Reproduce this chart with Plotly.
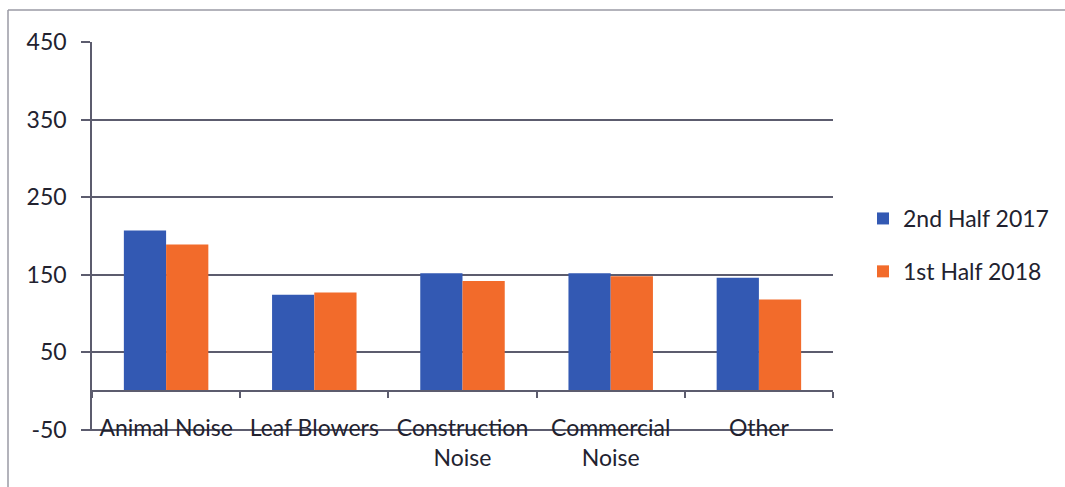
import plotly.graph_objects as go

categories = ["Animal Noise", "Leaf Blowers", "Construction<br>Noise", "Commercial<br>Noise", "Other"]
half2_2017 = [207, 124, 152, 152, 146]
half1_2018 = [189, 127, 142, 148, 118]
series_names = ["2nd Half 2017", "1st Half 2018"]
y_ticks = [-50, 50, 150, 250, 350, 450]
y_tick_text = ["-50", "50", "150", "250", "350", "450"]

BLUE = "#3359B3"
ORANGE = "#F26B2B"
GRID = "#5c5c6e"
TEXT = "#22222f"
FONT = "Lato"

W, H = 1065, 487
L, R, T, B = 92, 232, 42, 56
pw, ph = W - L - R, H - T - B

fig = go.Figure()
fig.add_trace(go.Bar(x=categories, y=half2_2017, name=series_names[0],
                     marker=dict(color=BLUE, line=dict(width=0)), legendgroup="a"))
fig.add_trace(go.Bar(x=categories, y=half1_2018, name=series_names[1],
                     marker=dict(color=ORANGE, line=dict(width=0)), legendgroup="b"))

# pad the lower end a touch so the bottom gridline is still drawn
ymin, ymax = y_ticks[0] - 1.5, y_ticks[-1]
zero_pos = (0 - ymin) / (ymax - ymin)

fig.update_layout(
    width=W, height=H,
    margin=dict(l=L, r=R, t=T, b=B, autoexpand=False),
    paper_bgcolor="white", plot_bgcolor="white",
    barmode="group", bargap=0.43, bargroupgap=0,
    font=dict(family=FONT, size=23, color=TEXT),
    legend=dict(x=(863 - L) / pw, y=1 - (245 - T) / ph, xanchor="left", yanchor="middle",
                font=dict(size=23, color=TEXT), tracegroupgap=20,
                bgcolor="rgba(0,0,0,0)"),
    xaxis=dict(anchor="free", position=zero_pos, showline=True, linecolor=GRID,
               linewidth=1.5, ticks="outside", tickson="boundaries", ticklen=6,
               tickcolor=GRID, tickwidth=1.5, showgrid=False,
               ticklabelstandoff=17, tickfont=dict(size=23, color=TEXT)),
    yaxis=dict(range=[ymin, ymax], tickvals=y_ticks, ticktext=y_tick_text,
               showgrid=True, gridcolor=GRID,
               gridwidth=1.5, zeroline=False, showline=True, linecolor=GRID,
               linewidth=1.5, ticks="outside", ticklen=9, tickcolor=GRID,
               tickwidth=1.5, ticklabelstandoff=10, tickfont=dict(size=23, color=TEXT)),
)

# outer chart frame (left and top edges)
fx0 = (8 - L) / pw
fy_top = 1 + (T - 10) / ph
fy_bot = -(B) / ph
fig.add_shape(type="line", xref="paper", yref="paper", x0=fx0, x1=(W - L) / pw,
              y0=fy_top, y1=fy_top, line=dict(color="#9a9aa4", width=1.5))
fig.add_shape(type="line", xref="paper", yref="paper", x0=fx0, x1=fx0,
              y0=fy_bot, y1=fy_top, line=dict(color="#9a9aa4", width=1.5))

fig.write_html("out.html")
